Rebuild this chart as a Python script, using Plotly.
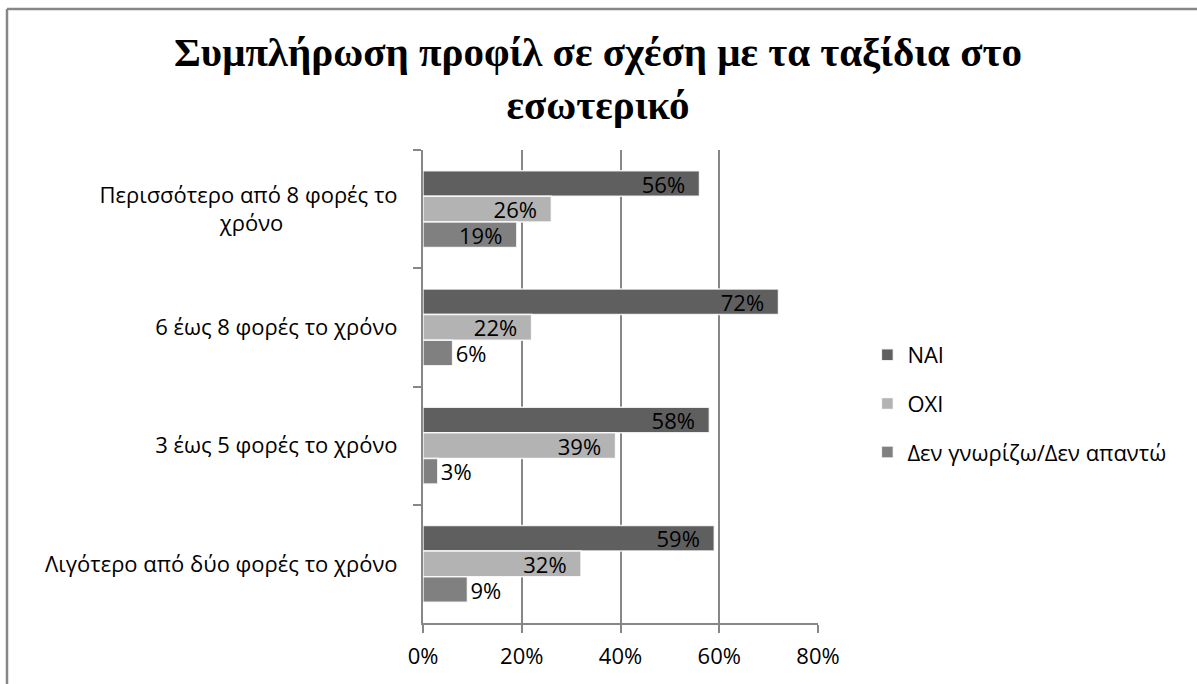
import plotly.graph_objects as go

# Travel-frequency groups, listed top to bottom
categories = [
    "Περισσότερο από 8 φορές το<br>χρόνο" + "\u00a0" * 20,
    "6 έως 8 φορές το χρόνο",
    "3 έως 5 φορές το χρόνο",
    "Λιγότερο από δύο φορές το χρόνο",
]

series_names = ["ΝΑΙ", "ΟΧΙ", "Δεν γνωρίζω/Δεν απαντώ"]
nai = [56, 72, 58, 59]
oxi = [26, 22, 39, 32]
dk = [19, 6, 3, 9]

colors = ["#5f5f5f", "#b3b3b3", "#808080"]
x_ticks = [0, 20, 40, 60, 80]

FONT = "Open Sans"
FS = 22
GRID = "#878787"

fig = go.Figure()
for i, (name, vals) in enumerate(zip(series_names, [nai, oxi, dk])):
    positions = ["inside" if v >= 15 else "outside" for v in vals]
    labels = [f"{v}%" + ("\u00a0\u00a0" if p == "inside" else "") for v, p in zip(vals, positions)]
    fig.add_trace(go.Bar(
        y=categories,
        x=vals,
        name=name,
        orientation="h",
        legendgroup=f"g{i}",
        marker=dict(color=colors[i], line=dict(color="rgba(255,255,255,0.85)", width=1.5)),
        text=labels,
        textposition=positions,
        insidetextanchor="end",
        constraintext="none",
        textfont=dict(family=FONT, size=FS, color="black"),
        cliponaxis=False,
        hoverinfo="skip",
    ))

# Chart frame: only the left and top edges fall inside the page
frame_left = (7 - 423) / 395
frame_top = (623 - 9) / 473
frame_shapes = [
    dict(type="line", xref="paper", yref="paper",
         x0=frame_left, x1=frame_left, y0=(623 - 800) / 473, y1=frame_top,
         line=dict(color=GRID, width=2.5), layer="below"),
    dict(type="line", xref="paper", yref="paper",
         x0=frame_left, x1=(1400 - 423) / 395, y0=frame_top, y1=frame_top,
         line=dict(color=GRID, width=2.5), layer="below"),
]

fig.update_layout(
    width=1197,
    height=684,
    margin=dict(l=423, r=379, t=150, b=61),
    paper_bgcolor="white",
    plot_bgcolor="white",
    barmode="group",
    bargap=0.35,
    bargroupgap=0,
    font=dict(family=FONT, size=FS, color="black"),
    title=dict(
        text="Συμπλήρωση προφίλ σε σχέση με τα ταξίδια στο<br>εσωτερικό",
        font=dict(family="Liberation Serif", size=41, color="black", weight="bold"),
        x=598 / 1197,
        xanchor="center",
        xref="container",
        y=1 - 66 / 684,
        yref="container",
        yanchor="middle",
    ),
    showlegend=True,
    legend=dict(
        x=1.125,
        xanchor="left",
        y=0.611,
        yanchor="top",
        font=dict(family=FONT, size=FS, color="black"),
        tracegroupgap=17,
        bgcolor="rgba(0,0,0,0)",
    ),
    xaxis=dict(
        range=[0, 80],
        tickvals=x_ticks,
        ticktext=[f"{t}%" for t in x_ticks],
        showgrid=True,
        gridcolor=GRID,
        gridwidth=2,
        zeroline=False,
        showline=True,
        linecolor=GRID,
        linewidth=2,
        ticks="outside",
        ticklen=8,
        tickwidth=2,
        tickcolor=GRID,
        ticklabelstandoff=5,
        tickfont=dict(family=FONT, size=FS, color="black"),
        fixedrange=True,
    ),
    yaxis=dict(
        autorange="reversed",
        showgrid=False,
        showline=True,
        linecolor=GRID,
        linewidth=2,
        ticks="outside",
        tickson="boundaries",
        ticklen=8,
        tickwidth=2,
        tickcolor=GRID,
        ticklabelstandoff=19,
        tickfont=dict(family=FONT, size=FS, color="black"),
        fixedrange=True,
    ),
    shapes=frame_shapes,
)

fig.write_html("out.html")
